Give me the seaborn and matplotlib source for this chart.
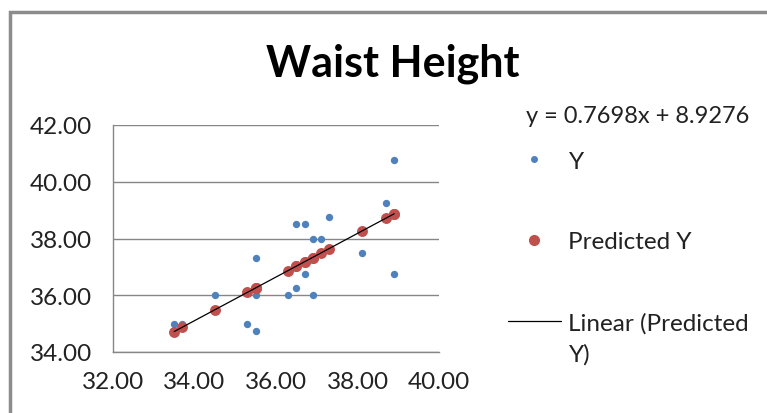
import pandas as pd
import seaborn as sns
import matplotlib.pyplot as plt
from matplotlib.lines import Line2D
from matplotlib.patches import Rectangle

sns.set_theme(style="white")
plt.rcParams['font.family'] = ['Lato', 'DejaVu Sans']

# Dati
x_vals = [33.5, 33.7, 34.5, 35.3, 35.5, 35.5, 35.5, 36.3, 36.5, 36.5,
          36.7, 36.7, 36.9, 36.9, 37.1, 37.3, 38.1, 38.7, 38.9, 38.9]
y_vals = [35.0, 35.0, 36.0, 35.0, 34.75, 36.0, 37.3, 36.0, 36.25, 38.5,
          38.5, 36.75, 38.0, 36.0, 38.0, 38.75, 37.5, 39.25, 40.75, 36.75]
pred_vals = [34.72, 34.87, 35.49, 36.10, 36.26, 36.26, 36.26, 36.87, 37.03, 37.03,
             37.18, 37.18, 37.33, 37.33, 37.49, 37.64, 38.26, 38.72, 38.87, 38.87]
x_ticks = [32, 34, 36, 38, 40]
y_ticks = [34, 36, 38, 40, 42]
equation = "y = 0.7698x + 8.9276"

df = pd.DataFrame({"x": x_vals, "Y": y_vals, "Predicted Y": pred_vals})

W, H = 767, 414
fig = plt.figure(figsize=(W / 100, H / 100), dpi=100)
ax = fig.add_axes([113 / W, (H - 353) / H, (439 - 113) / W, (353 - 126) / H])

blue = "#4F81BD"
red = "#C0504D"
grid = "#868686"
txt = "#222222"

sns.scatterplot(data=df, x="x", y="Y", ax=ax, color=blue, s=28, linewidth=0, zorder=3)
sns.scatterplot(data=df, x="x", y="Predicted Y", ax=ax, color=red, s=62, linewidth=0, zorder=4)
sns.regplot(data=df, x="x", y="Predicted Y", ax=ax, scatter=False, ci=None, truncate=True,
            line_kws={"color": "black", "lw": 0.9, "zorder": 5})

ax.set_xlim(32, 40)
ax.set_ylim(34, 42)
ax.set_xticks(x_ticks)
ax.set_yticks(y_ticks)
ax.set_xticklabels([f"{v:.2f}" for v in x_ticks])
ax.set_yticklabels([f"{v:.2f}" for v in y_ticks])
ax.set_xlabel("")
ax.set_ylabel("")
ax.yaxis.grid(True, color=grid, lw=1)
ax.xaxis.grid(False)
for side in ["top", "right"]:
    ax.spines[side].set_visible(False)
for side in ["left", "bottom"]:
    ax.spines[side].set_color(grid)
    ax.spines[side].set_linewidth(1)
ax.tick_params(axis="both", which="both", length=7, width=1, color=grid,
               labelsize=17.5, labelcolor=txt, direction="out", pad=8)
ax.tick_params(axis="x", pad=7)

# Titolo
fig.text(393 / W, 1 - 64 / H, "Waist Height", ha="center", va="center",
         fontsize=31, fontweight="bold", color="black")

# Equazione
fig.text(638 / W, 1 - 117 / H, equation, ha="center", va="center", fontsize=17, color=txt)

# Legenda
handles = [
    Line2D([], [], marker="o", ls="", color=blue, markersize=4),
    Line2D([], [], marker="o", ls="", color=red, markersize=7),
    Line2D([], [], color="black", lw=0.9),
]
labels = ["Y", "Predicted Y", "Linear (Predicted"]
fig.legend(handles, labels, loc="upper left", bbox_to_anchor=(498 / W, 1 - 142 / H),
           frameon=False, fontsize=17.5, labelspacing=2.45, handlelength=2.2,
           handletextpad=0.3, labelcolor=txt, borderaxespad=0, borderpad=0.4)
fig.text(569 / W, 1 - 355 / H, "Y)", ha="left", va="center", fontsize=17.5, color=txt)

# Bordo dell'area del grafico
fig.patches.append(Rectangle((10 / W, -0.1), 1.2, 1 - 13 / H + 0.1, transform=fig.transFigure,
                             fill=False, ec="#8c8c8c", lw=2.5))

fig.savefig("out.png", dpi=100)
